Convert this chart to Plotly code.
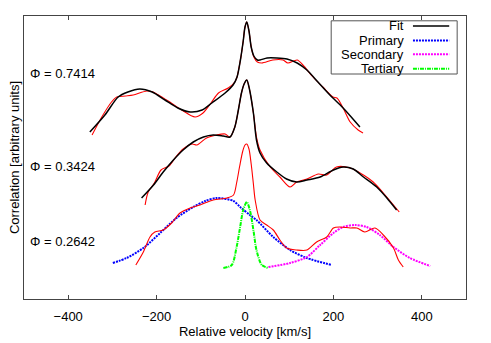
import plotly.graph_objects as go

# Φ = 0.7414 (top)
v_fit_a = [-351, -317, -287, -265, -238, -210, -181, -152, -124, -97, -75, -45, -27, -18, -10, -4, 0, 4, 9, 14, 20, 28, 34, 50, 72, 95, 118, 140, 165, 192, 222, 260]
y_fit_a = [167, 184, 202, 207, 210, 207, 199, 191, 187, 189, 196, 206, 214, 222, 240, 258, 272, 277, 268, 252, 243, 239, 239, 241, 241, 240, 236, 229, 217, 204, 191, 172]
v_obs_a = [-346, -324, -302, -290, -270, -253, -222, -208, -185, -170, -143, -113, -95, -77, -60, -38, -23, -18, -10, -4, 0, 4, 9, 14, 20, 28, 38, 63, 86, 97, 118, 131, 154, 176, 199, 208, 222, 238, 256, 267]
y_obs_a = [164, 182, 197, 202, 203, 204, 208, 207, 201, 197, 189, 182, 186, 196, 206, 211, 217, 222, 240, 258, 272, 277, 268, 252, 242, 237, 236, 239, 239, 236, 239, 234, 222, 212, 202, 201, 191, 177, 169, 166]

# Φ = 0.3424 (middle)
v_fit_b = [-234, -207, -185, -162, -140, -117, -94, -72, -49, -34, -23, -15, -8, -2, 4, 10, 19, 26, 34, 49, 72, 94, 117, 140, 170, 200, 222, 245, 268, 298, 321, 343]
y_fit_b = [101, 114, 127, 139, 149, 157, 162, 164, 163, 162, 172, 189, 206, 215, 219, 210, 186, 159, 146, 136, 127, 120, 117, 119, 122, 129, 132, 130, 122, 112, 101, 89]
v_obs_b = [-226, -219, -205, -190, -172, -155, -140, -120, -109, -87, -64, -45, -34, -23, -15, -8, -2, 4, 10, 19, 26, 34, 57, 79, 102, 117, 140, 166, 185, 207, 238, 268, 290, 313, 349]
y_obs_b = [94, 107, 116, 129, 133, 143, 150, 155, 154, 161, 164, 165, 162, 172, 189, 206, 215, 219, 210, 186, 162, 149, 132, 122, 112, 117, 120, 125, 124, 132, 131, 124, 117, 106, 87]

# Φ = 0.2642 (bottom)
v_obs_c = [-247, -230, -215, -204, -185, -166, -147, -124, -102, -72, -41, -26, -19, -12, -5, 0, 4, 9, 14, 19, 23, 34, 49, 64, 79, 94, 117, 140, 162, 185, 200, 215, 238, 253, 271, 294, 313, 336, 347, 358]
y_obs_c = [34, 47, 62, 67, 69, 76, 86, 91, 94, 99, 101, 104, 116, 133, 148, 154, 155, 150, 135, 115, 99, 79, 74, 69, 59, 51, 49, 49, 57, 62, 71, 72, 71, 71, 67, 71, 64, 51, 39, 32]
v_primary = [-299, -268, -230, -192, -155, -117, -90, -64, -26, -11, 11, 26, 64, 102, 140, 196]
y_primary = [36, 41, 51, 66, 81, 92, 98, 101, 98, 92, 84, 79, 62, 49, 41, 34]
v_secondary = [53, 102, 140, 170, 200, 222, 249, 275, 305, 336, 373, 419]
y_secondary = [32, 36, 42, 54, 66, 72, 74, 72, 64, 52, 41, 33]
v_tertiary = [-49, -30, -19, -11, -4, 4, 11, 19, 26, 38, 53]
y_tertiary = [31, 34, 52, 72, 89, 97, 89, 69, 49, 34, 31]

phase_labels = ["Φ = 0.7414", "Φ = 0.3424", "Φ = 0.2642"]
phase_y = [226, 133, 58]

legend_names = ["Fit", "Primary", "Secondary", "Tertiary"]
legend_colors = ["#000000", "#0000ff", "#ff00ff", "#00ff00"]
legend_dash = ["solid", "2px,1px", "2px,1px", "4px,1px,1px,1px"]

FONT = "Liberation Sans, Arial, sans-serif"

fig = go.Figure()


def add_line(x, y, color, width, dash="solid"):
    fig.add_trace(go.Scatter(x=x, y=y, mode="lines", showlegend=False, hoverinfo="skip",
                             line=dict(color=color, width=width, dash=dash, shape="spline", smoothing=0.8)))


add_line(v_primary, y_primary, "#0000ff", 2, "2px,1px")
add_line(v_secondary, y_secondary, "#ff00ff", 2, "2px,1px")
add_line(v_tertiary, y_tertiary, "#00ff00", 2, "4px,1px,1px,1px")
add_line(v_obs_c, y_obs_c, "#ff0000", 1.1)
add_line(v_obs_a, y_obs_a, "#ff0000", 1.1)
add_line(v_fit_a, y_fit_a, "#000000", 1.5)
add_line(v_obs_b, y_obs_b, "#ff0000", 1.1)
add_line(v_fit_b, y_fit_b, "#000000", 1.5)

for lab, yy in zip(phase_labels, phase_y):
    fig.add_annotation(x=-490, y=yy, text=lab, showarrow=False, xanchor="left",
                       font=dict(size=13, color="#000", family=FONT))

# legend box (text on the left, sample on the right)
fig.add_shape(type="rect", xref="paper", yref="paper", x0=0.695, x1=0.98, y0=0.795, y1=0.983,
              line=dict(color="#555", width=1), fillcolor="white", layer="above")
row_y = [0.965, 0.913, 0.865, 0.814]
for name, col, dash, ry in zip(legend_names, legend_colors, legend_dash, row_y):
    fig.add_annotation(xref="paper", yref="paper", x=0.864, y=ry, text=name, showarrow=False,
                       xanchor="right", yanchor="middle", font=dict(size=13, color="#000", family=FONT))
    fig.add_shape(type="line", xref="paper", yref="paper", x0=0.88, x1=0.962, y0=ry, y1=ry,
                  line=dict(color=col, width=2 if col != "#000000" else 1.5, dash=dash), layer="above")

fig.update_layout(
    width=491, height=343,
    margin=dict(l=24, r=25, t=16, b=44, autoexpand=False),
    plot_bgcolor="white", paper_bgcolor="white",
    font=dict(family=FONT, size=12, color="#000"),
    xaxis=dict(range=[-500, 500], tickvals=[-400, -200, 0, 200, 400], ticks="inside", ticklen=4,
               tickcolor="#444", showline=True, linecolor="#444", linewidth=1, mirror="ticks",
               showgrid=False, zeroline=False, tickfont=dict(size=13), automargin=False,
               ticklabelstandoff=5,
               title=dict(text="Relative velocity [km/s]", font=dict(size=13), standoff=2)),
    yaxis=dict(range=[0, 283], showticklabels=False, ticks="", showline=True, linecolor="#444",
               linewidth=1, mirror=True, showgrid=False, zeroline=False, automargin=False,
               title=dict(text="Correlation [arbitrary units]", font=dict(size=13), standoff=0)),
)

# page body has a default 8px margin; drop it so the plot sits at the window corner
fig.write_html("out.html", config={"displayModeBar": False},
               post_script="document.body.style.margin='0';")
